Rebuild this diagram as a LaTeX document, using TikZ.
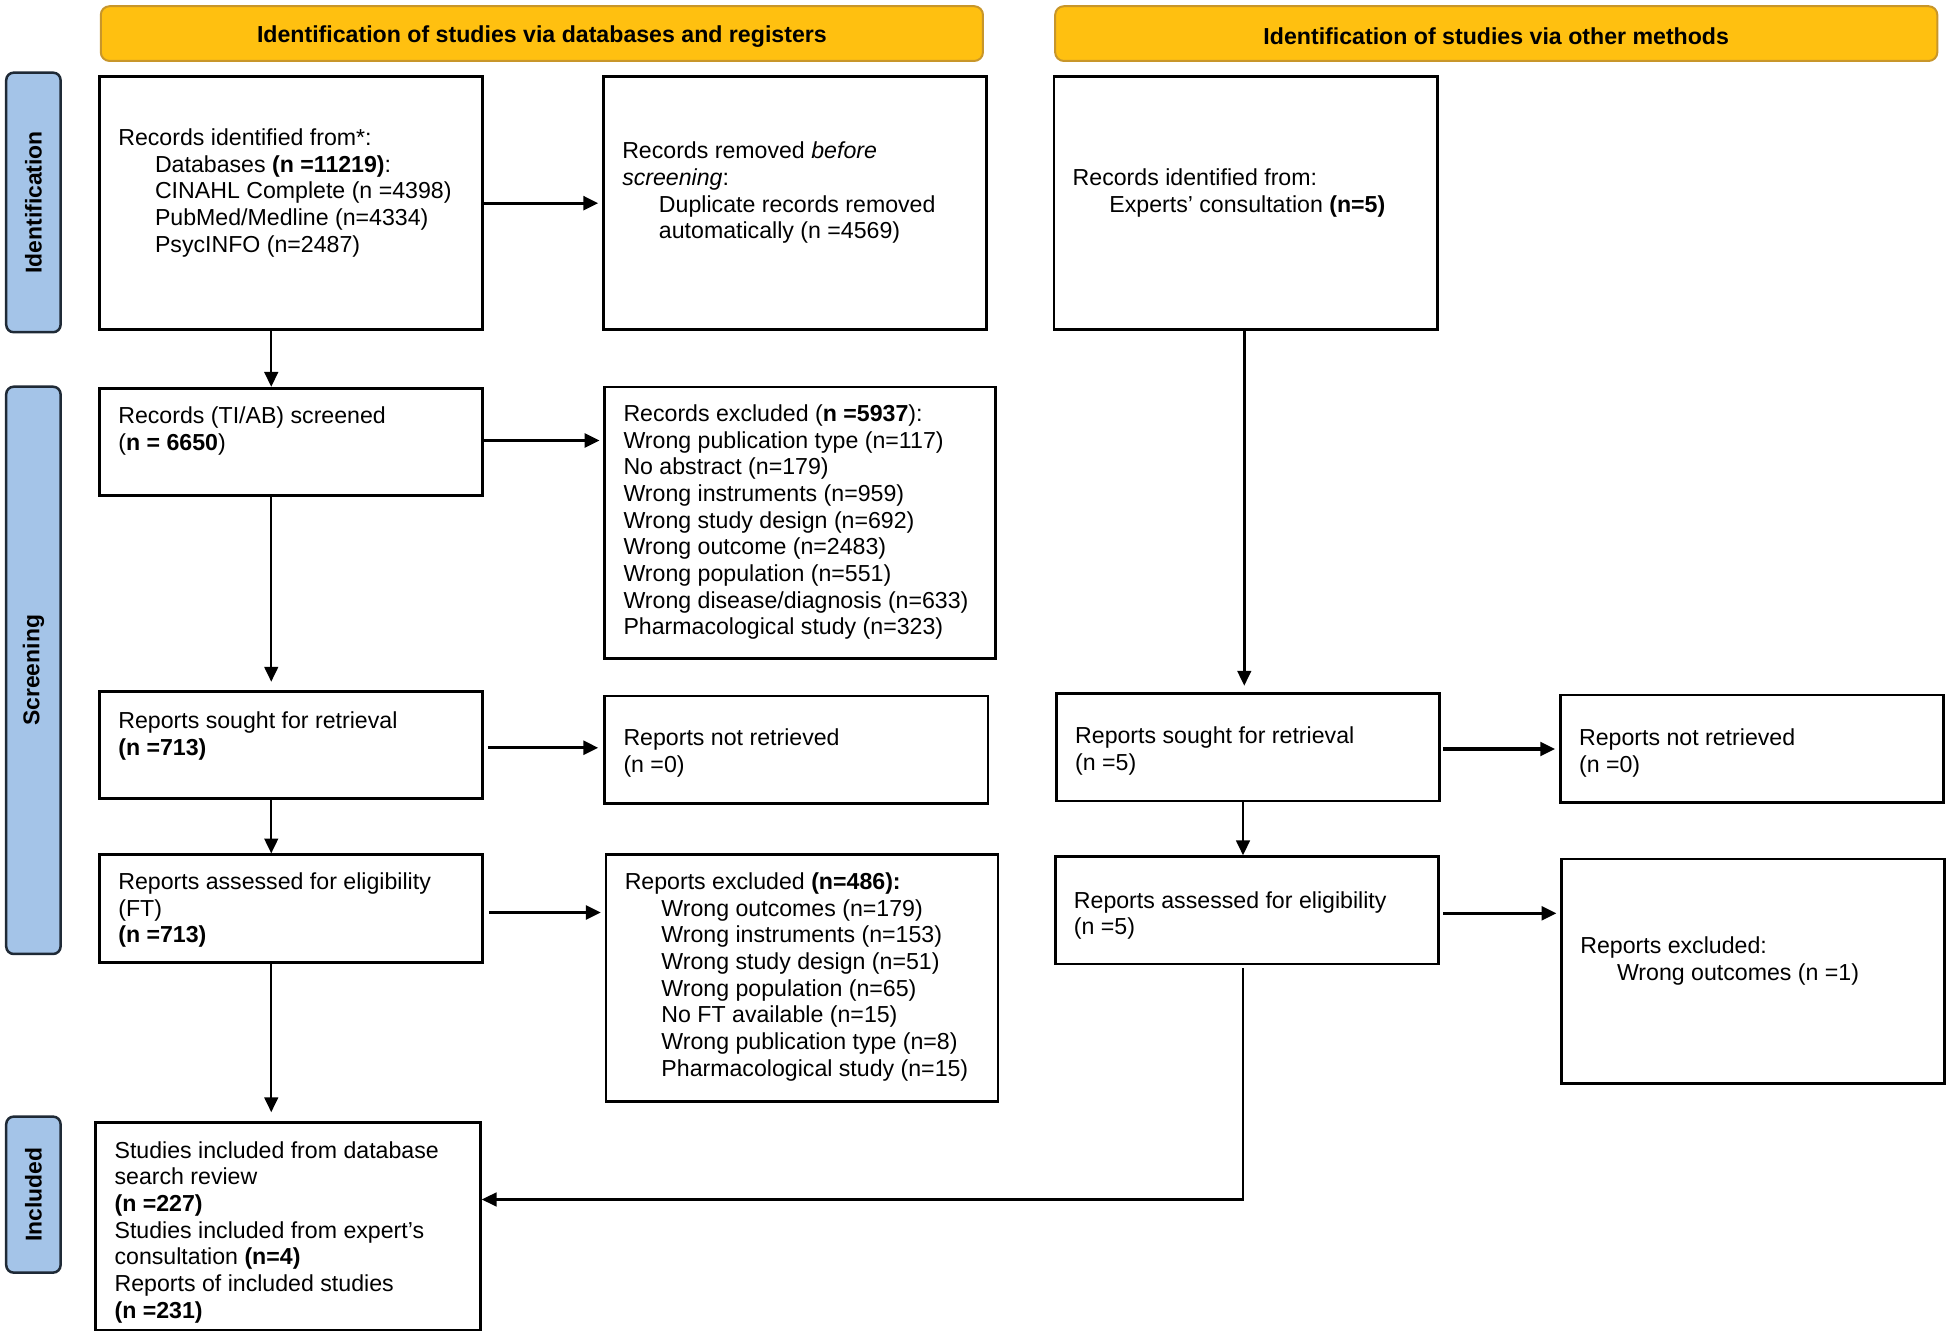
\documentclass[tikz,border=0pt]{standalone}
\usepackage{fontspec}
\setmainfont{Liberation Sans}
\usetikzlibrary{arrows.meta,fit,calc}
\definecolor{hdrfill}{HTML}{FFC010}
\definecolor{hdrline}{HTML}{C8962A}
\definecolor{sidefill}{HTML}{A4C4E8}
\definecolor{sideline}{HTML}{1F2A36}
\newcommand{\prisind}{\hspace*{29.5pt}}
\begin{document}
\begin{tikzpicture}[x=1pt,y=-1pt,
  box/.style={draw=black, line width=2.2pt, inner sep=0pt, fill=white},
  txt/.style={inner sep=0pt, align=left, anchor=north west, yshift=-1.5pt, font=\fontsize{18.6pt}{21.43pt}\selectfont},
  hdr/.style={draw=hdrline, fill=hdrfill, line width=1.6pt, rounded corners=7pt, inner sep=0pt},
  side/.style={draw=sideline, fill=sidefill, line width=2pt, rounded corners=6pt, inner sep=0pt},
  hdrtxt/.style={font=\fontsize{18.6pt}{21.43pt}\selectfont\bfseries, inner sep=0pt, yshift=-2.5pt},
  sidetxt/.style={font=\fontsize{18.4pt}{21pt}\selectfont\bfseries, rotate=90, inner sep=0pt},
  arr/.style={line width=2pt, -{Triangle[length=12pt,width=11pt]}},
  harr/.style={arr, line width=2.6pt},
]
\useasboundingbox (0,0) rectangle (1568,1075);

% headers
\node[hdr, fit={(81,5)(790,49)}] (H1) {};
\node[hdrtxt] (H1t) at (H1.center) {Identification of studies via databases and registers};
\node[hdr, fit={(848,5)(1557,49)}] (H2) {};
\node[hdrtxt] (H2t) at (H2.center) {Identification of studies via other methods};

% side labels
\node[side, fit={(5,58.4)(48.7,267)}] (S1) {};
\node[sidetxt] (S1t) at (S1.center) {Identification};
\node[side, fit={(5,310.8)(48.7,766.7)}] (S2) {};
\node[sidetxt] (S2t) at (S2.center) {Screening};
\node[side, fit={(5,897.4)(48.7,1022.8)}] (S3) {};
\node[sidetxt] (S3t) at (S3.center) {Included};

% boxes
\node[box, fit={(80,61.6)(388,265)}] (A) {};
\node[txt] (At) at ([shift={(16,39.7)}]A.north west) {\strut Records identified from*:\\ \prisind Databases \textbf{(n =11219)}:\\ \prisind CINAHL Complete (n =4398)\\ \prisind PubMed/Medline (n=4334)\\ \prisind PsycINFO (n=2487)};

\node[box, fit={(485,61.6)(793,265)}] (B) {};
\node[txt] (Bt) at ([shift={(16,50.4)}]B.north west) {\strut Records removed \textit{before}\\ \textit{screening}:\\ \prisind Duplicate records removed\\ \prisind automatically (n =4569)};

\node[box, fit={(847,61.6)(1155,265)}] (C) {};
\node[txt] (Ct) at ([shift={(16,71.9)}]C.north west) {\strut Records identified from:\\ \prisind Experts’ consultation \textbf{(n=5)}};

\node[box, fit={(80,312)(388,398)}] (D) {};
\node[txt] (Dt) at ([shift={(16,13)}]D.north west) {\strut Records (TI/AB) screened\\ (\textbf{n = 6650})};

\node[box, fit={(486,311)(800,529)}] (E) {};
\node[txt] (Et) at ([shift={(16,12.1)}]E.north west) {\strut Records excluded (\textbf{n =5937}):\\ Wrong publication type (n=117)\\ No abstract (n=179)\\ Wrong instruments (n=959)\\ Wrong study design (n=692)\\ Wrong outcome (n=2483)\\ Wrong population (n=551)\\ Wrong disease/diagnosis (n=633)\\ Pharmacological study (n=323)};

\node[box, fit={(80,556)(388,642)}] (F) {};
\node[txt] (Ft) at ([shift={(16,14.1)}]F.north west) {\strut Reports sought for retrieval\\ \textbf{(n =713)}};

\node[box, fit={(486,559.3)(794,645.6)}] (G) {};
\node[txt] (Gt) at ([shift={(16,24.2)}]G.north west) {\strut Reports not retrieved\\ (n =0)};

\node[box, fit={(849,557.2)(1157,643.7)}] (H) {};
\node[txt] (Ht) at ([shift={(16,25)}]H.north west) {\strut Reports sought for retrieval\\ (n =5)};

\node[box, fit={(1254,558.5)(1562,645)}] (I) {};
\node[txt] (It) at ([shift={(16,25)}]I.north west) {\strut Reports not retrieved\\ (n =0)};

\node[box, fit={(80,687)(388,773.7)}] (J) {};
\node[txt] (Jt) at ([shift={(16,12.3)}]J.north west) {\strut Reports assessed for eligibility\\ (FT)\\ \textbf{(n =713)}};

\node[box, fit={(487,686.6)(802,885.3)}] (K) {};
\node[txt] (Kt) at ([shift={(16,12.7)}]K.north west) {\strut Reports excluded \textbf{(n=486):}\\ \prisind Wrong outcomes (n=179)\\ \prisind Wrong instruments (n=153)\\ \prisind Wrong study design (n=51)\\ \prisind Wrong population (n=65)\\ \prisind No FT available (n=15)\\ \prisind Wrong publication type (n=8)\\ \prisind Pharmacological study (n=15)};

\node[box, fit={(848,688.5)(1156,774.7)}] (L) {};
\node[txt] (Lt) at ([shift={(16,25.8)}]L.north west) {\strut Reports assessed for eligibility\\ (n =5)};

\node[box, fit={(1255,690.3)(1563,870.6)}] (M) {};
\node[txt] (Mt) at ([shift={(16,60.7)}]M.north west) {\strut Reports excluded:\\ \prisind Wrong outcomes (n =1)};

\node[box, fit={(77,902)(386,1069)}] (N) {};
\node[txt] (Nt) at ([shift={(16,13.2)}]N.north west) {\strut Studies included from database\\ search review\\ \textbf{(n =227)}\\ Studies included from expert’s\\ consultation \textbf{(n=4)}\\ Reports of included studies\\ \textbf{(n =231)}};

% column coordinates
\coordinate (colL) at (218,0);
\coordinate (colR) at (1000,0);
\coordinate (turn) at (999,964);

% arrows
\draw[harr, shorten >=3pt] (A.east) -- (A.east -| B.west);
\draw[arr] (A.south -| colL) -- (D.north -| colL);
\draw[harr, shorten >=3pt] ([yshift=1pt]D.east) -- ([yshift=1pt]D.east -| E.west);
\draw[arr, shorten >=7pt] (D.south -| colL) -- (F.north -| colL);
\draw[harr, shorten <=3pt, shorten >=4pt] ([yshift=-2pt]F.east) -- ([yshift=-2pt]F.east -| G.west);
\draw[arr] (F.south -| colL) -- (J.north -| colL);
\draw[harr, shorten <=4pt, shorten >=3pt] ([yshift=-3pt]J.east) -- ([yshift=-3pt]J.east -| K.west);
\draw[arr, shorten >=7pt] (J.south -| colL) -- (N.north -| colL);

\draw[arr, shorten >=5pt] (C.south -| colR) -- (H.north -| colR);
\draw[harr, shorten <=2pt, shorten >=3pt] ([yshift=-1.5pt]H.east) -- ([yshift=-1.5pt]H.east -| I.west);
\draw[arr] (H.south -| turn) -- (L.north -| turn);
\draw[harr, shorten <=3pt, shorten >=3pt] ([yshift=-2.4pt]L.east) -- ([yshift=-2.4pt]L.east -| M.west);
\draw[arr] ([yshift=-2pt]L.south -| turn) -- (turn) -- (turn -| N.east);
\end{tikzpicture}
\end{document}
